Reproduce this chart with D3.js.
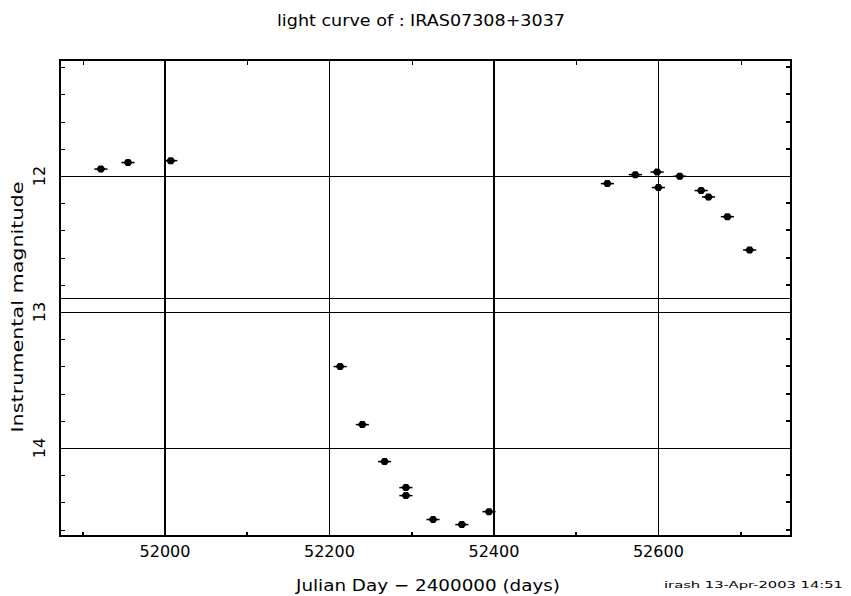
<!DOCTYPE html>
<html>
<head>
<meta charset="utf-8">
<script src="https://cdn.jsdelivr.net/npm/d3@7"></script>
<style>
  html, body { margin: 0; padding: 0; background: #fff; }
  svg { display: block; }
  text { font-family: "DejaVu Sans", sans-serif; fill: #000; }
</style>
</head>
<body>
<svg id="chart" width="851" height="596"></svg>
<script>
// ---- data ----
const julianDays = [51922, 51955, 52007, 52213, 52240, 52267, 52293, 52293, 52326, 52361, 52394,
                    52538, 52572, 52598.5, 52600, 52626, 52652, 52661, 52684, 52711];
const magnitudes = [11.949, 11.901, 11.887, 13.401, 13.828, 14.100, 14.291, 14.350, 14.526, 14.563, 14.468,
                    12.056, 11.990, 11.971, 12.085, 12.002, 12.107, 12.154, 12.299, 12.544];
const dayErrors = [8, 8, 8, 8, 8, 8, 8, 8, 8, 8, 8, 8, 8, 8, 8, 8, 8, 8, 8, 8];
const xTickLabels = [52000, 52200, 52400, 52600];
const xMinorTicks = [51900, 52100, 52300, 52500, 52700];
const thickVerticals = [52000, 52400];
const yTickLabels = [12, 13, 14];
const yMinorTicks = [11.2, 11.4, 11.6, 11.8, 12.2, 12.4, 12.6, 12.8, 13.2, 13.4, 13.6, 13.8, 14.2, 14.4, 14.6];
const yExtraLines = [12.895];
const xDomain = [51872.3, 52761.3];
const yDomain = [11.147, 14.647];
const titleText = "light curve of : IRAS07308+3037";
const xTitle = "Julian Day \u2212 2400000 (days)";
const yTitle = "Instrumental magnitude";
const stampText = "irash 13-Apr-2003 14:51";

// ---- layout ----
const L = 60, R = 791, T = 60, B = 536;
const svg = d3.select("#chart");
const x = d3.scaleLinear().domain(xDomain).range([L, R]);
const y = d3.scaleLinear().domain(yDomain).range([T, B]);

const g = svg.append("g").attr("shape-rendering", "crispEdges");

// horizontal grid lines
g.selectAll("line.hg").data(yTickLabels.concat(yExtraLines)).enter().append("line")
  .attr("x1", L).attr("x2", R)
  .attr("y1", d => Math.round(y(d)) + 0.5).attr("y2", d => Math.round(y(d)) + 0.5)
  .attr("stroke", "#000").attr("stroke-width", 1);

// vertical grid lines
g.selectAll("line.vg").data(xTickLabels).enter().append("line")
  .attr("y1", T).attr("y2", B)
  .attr("x1", d => Math.round(x(d)) + (thickVerticals.includes(d) ? 0 : 0.5))
  .attr("x2", d => Math.round(x(d)) + (thickVerticals.includes(d) ? 0 : 0.5))
  .attr("stroke", "#000").attr("stroke-width", d => thickVerticals.includes(d) ? 2 : 1);

// y minor ticks left & right
g.selectAll("line.yl").data(yMinorTicks).enter().append("line")
  .attr("x1", L).attr("x2", L + 5)
  .attr("y1", d => Math.round(y(d)) + 0.5).attr("y2", d => Math.round(y(d)) + 0.5)
  .attr("stroke", "#000").attr("stroke-width", 1);
g.selectAll("line.yr").data(yMinorTicks).enter().append("line")
  .attr("x1", R - 5).attr("x2", R)
  .attr("y1", d => Math.round(y(d))).attr("y2", d => Math.round(y(d)))
  .attr("stroke", "#000").attr("stroke-width", 2);

// x minor ticks bottom & top
g.selectAll("line.xb").data(xMinorTicks).enter().append("line")
  .attr("x1", d => Math.round(x(d))).attr("x2", d => Math.round(x(d)))
  .attr("y1", B - 4).attr("y2", B)
  .attr("stroke", "#000").attr("stroke-width", 2);
g.selectAll("line.xt").data(xMinorTicks).enter().append("line")
  .attr("x1", d => Math.round(x(d)) + 0.5).attr("x2", d => Math.round(x(d)) + 0.5)
  .attr("y1", T).attr("y2", T + 5)
  .attr("stroke", "#000").attr("stroke-width", 1);

// frame
g.append("rect").attr("x", L).attr("y", T).attr("width", R - L).attr("height", B - T)
  .attr("fill", "none").attr("stroke", "#000").attr("stroke-width", 2);

// data points
const pts = julianDays.map((d, i) => ({ d, m: magnitudes[i], e: dayErrors[i] }));
const pg = svg.append("g");
pg.selectAll("line.err").data(pts).enter().append("line")
  .attr("x1", p => x(p.d - p.e)).attr("x2", p => x(p.d + p.e))
  .attr("y1", p => y(p.m)).attr("y2", p => y(p.m))
  .attr("stroke", "#000").attr("stroke-width", 1.5);
pg.selectAll("path.pt").data(pts).enter().append("path")
  .attr("transform", p => `translate(${x(p.d)},${y(p.m)})`)
  .attr("d", "M-4.5,0 L-2,-3.5 L2,-3.5 L4.5,0 L2,3.5 L-2,3.5 Z")
  .attr("fill", "#000");

// x tick labels
svg.selectAll("text.xl").data(xTickLabels).enter().append("text")
  .attr("x", d => x(d)).attr("y", 557)
  .attr("text-anchor", "middle").attr("font-size", 16)
  .text(d => d);

// y tick labels (rotated)
svg.selectAll("text.yl").data(yTickLabels).enter().append("text")
  .attr("transform", d => `translate(45,${y(d)}) rotate(-90)`)
  .attr("text-anchor", "middle").attr("font-size", 16)
  .text(d => d);

// titles
svg.append("text").attr("x", 421).attr("y", 26).attr("text-anchor", "middle")
  .attr("font-size", 16).attr("textLength", 288).attr("lengthAdjust", "spacingAndGlyphs")
  .text(titleText);
svg.append("text").attr("x", 428).attr("y", 591).attr("text-anchor", "middle")
  .attr("font-size", 16).attr("textLength", 264).attr("lengthAdjust", "spacingAndGlyphs")
  .text(xTitle);
svg.append("text").attr("transform", "translate(23,307) rotate(-90)").attr("text-anchor", "middle")
  .attr("font-size", 16).attr("textLength", 251).attr("lengthAdjust", "spacingAndGlyphs")
  .text(yTitle);
svg.append("text").attr("x", 664).attr("y", 588)
  .attr("font-size", 9).attr("textLength", 179).attr("lengthAdjust", "spacingAndGlyphs")
  .text(stampText);
</script>
</body>
</html>
